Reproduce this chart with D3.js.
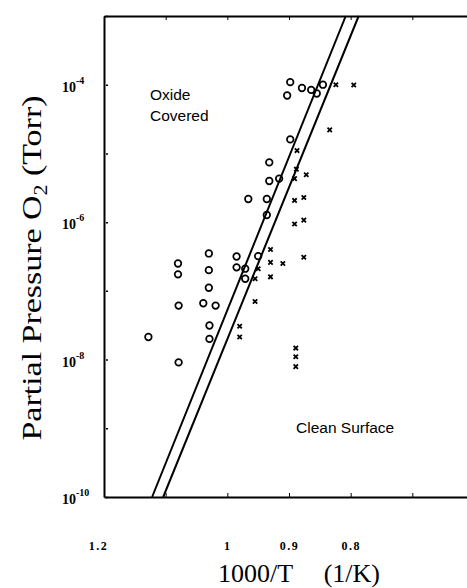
<!DOCTYPE html>
<html>
<head>
<meta charset="utf-8">
<script src="https://cdn.jsdelivr.net/npm/d3@7"></script>
<style>
  html, body { margin: 0; padding: 0; background: #fff; }
  svg { display: block; }
</style>
</head>
<body>
<svg id="chart" width="467" height="588"></svg>
<script>
// ---- data ----
const xTickValues = [1.2, 1.1, 1.0, 0.9, 0.8, 0.7];
const xTickLabels = ["1.2", "", "1", "0.9", "0.8", ""];
const yTickValues = [1e-10, 1e-9, 1e-8, 1e-7, 1e-6, 1e-5, 1e-4, 1e-3];
const yTickExponents = ["-10", "", "-8", "", "-6", "", "-4", ""];

// Oxide covered (open circles): 1000/T, pressure (Torr)
const oxideX = [0.898, 0.879, 0.864, 0.855, 0.845, 0.903, 0.898, 0.932, 0.932, 0.916,
                0.966, 0.936, 0.936, 1.030, 0.985, 0.950, 1.080, 1.080, 1.030, 0.985,
                0.971, 1.030, 0.971, 1.079, 1.039, 1.019, 1.029, 1.128, 1.029, 1.079];
const oxideP = [1.09e-4, 8.95e-5, 8.4e-5, 7.45e-5, 1.0e-4, 6.97e-5, 1.6e-5, 7.4e-6, 3.97e-6, 4.3e-6,
                2.17e-6, 2.17e-6, 1.27e-6, 3.5e-7, 3.16e-7, 3.2e-7, 2.5e-7, 1.74e-7, 2.0e-7, 2.2e-7,
                2.1e-7, 1.11e-7, 1.5e-7, 6.1e-8, 6.6e-8, 6.1e-8, 3.13e-8, 2.13e-8, 2.0e-8, 9.1e-9];

// Clean surface (crosses)
const cleanX = [0.824, 0.795, 0.834, 0.887, 0.888, 0.872, 0.891, 0.891, 0.876, 0.891,
                0.876, 0.930, 0.930, 0.910, 0.876, 0.950, 0.955, 0.930, 0.955, 0.980,
                0.980, 0.889, 0.889, 0.889];
const cleanP = [1.0e-4, 9.9e-5, 2.2e-5, 1.1e-5, 5.9e-6, 4.9e-6, 4.3e-6, 2.07e-6, 2.28e-6, 9.4e-7,
                1.07e-6, 4.0e-7, 2.6e-7, 2.5e-7, 3.08e-7, 2.1e-7, 1.5e-7, 1.6e-7, 7.0e-8, 3.05e-8,
                2.13e-8, 1.47e-8, 1.1e-8, 7.9e-9];

// transition boundary lines
const boundaryA = [[1.122, 1e-10], [0.808, 1e-3]];
const boundaryB = [[1.104, 1e-10], [0.787, 1e-3]];

// ---- chart ----
const svg = d3.select("#chart");
const x = d3.scaleLinear().domain([1.2, 0.6]).range([104, 474]);
const y = d3.scaleLog().domain([1e-10, 1e-3]).range([497, 16]);

const serif = "'Liberation Serif', 'Times New Roman', serif";
const sans = "'Liberation Sans', Arial, Helvetica, sans-serif";

// bottom axis (inward ticks)
const gB = svg.append("g").attr("transform", `translate(0,${y.range()[0]})`)
  .call(d3.axisBottom(x).tickValues(xTickValues).tickSize(-4).tickSizeOuter(0)
    .tickPadding(44).tickFormat((d, i) => xTickLabels[i]));
gB.select(".domain").attr("stroke-width", 2);
gB.selectAll("text").attr("font-family", serif).attr("font-weight", "bold")
  .attr("font-size", 12).attr("letter-spacing", "1.5px").attr("fill", "#000");
gB.selectAll(".tick").filter(d => d === 1.2).select("text").attr("dx", -6);

// top axis
const gT = svg.append("g").attr("transform", `translate(0,${y.range()[1]})`)
  .call(d3.axisTop(x).tickValues(xTickValues).tickSize(-4).tickSizeOuter(0).tickFormat(""));
gT.select(".domain").attr("stroke-width", 2);

// left axis
const gL = svg.append("g").attr("transform", `translate(${x.range()[0]},0)`)
  .call(d3.axisLeft(y).tickValues(yTickValues).tickSize(-4).tickSizeOuter(0).tickFormat(""));
gL.select(".domain").attr("stroke-width", 2);
gL.selectAll(".tick line").attr("x1", 2).attr("stroke-width", 1.5);

// y tick labels 10^n
const yl = svg.append("g").selectAll("text")
  .data(yTickValues.map((v, i) => ({v, e: yTickExponents[i]})).filter(d => d.e !== ""))
  .join("text")
  .attr("x", 62).attr("y", d => y(d.v) + 7)
  .attr("font-family", serif).attr("font-weight", "bold").attr("font-size", 14);
yl.append("tspan").text("10");
yl.append("tspan").attr("dy", -8).attr("font-size", 10).text(d => d.e);

// boundary lines
const line = d3.line().x(d => x(d[0])).y(d => y(d[1]));
svg.append("g").selectAll("path").data([boundaryA, boundaryB]).join("path")
  .attr("d", line).attr("fill", "none").attr("stroke", "#000").attr("stroke-width", 2);

// oxide circles
svg.append("g").selectAll("circle").data(d3.zip(oxideX, oxideP)).join("circle")
  .attr("cx", d => x(d[0])).attr("cy", d => y(d[1])).attr("r", 3.3)
  .attr("fill", "none").attr("stroke", "#000").attr("stroke-width", 1.7);

// clean crosses
const sym = d3.symbol(d3.symbolTimes, 14);
svg.append("g").selectAll("path").data(d3.zip(cleanX, cleanP)).join("path")
  .attr("transform", d => `translate(${x(d[0])},${y(d[1])})`)
  .attr("d", sym).attr("fill", "none").attr("stroke", "#000").attr("stroke-width", 1.8);

// region labels
svg.append("text").attr("x", 150).attr("y", 100).attr("font-family", sans)
  .attr("font-size", 15.5).text("Oxide");
svg.append("text").attr("x", 150).attr("y", 121).attr("font-family", sans)
  .attr("font-size", 15.5).text("Covered");
svg.append("text").attr("x", 296).attr("y", 433).attr("font-family", sans)
  .attr("font-size", 15.5).text("Clean Surface");

// x title
svg.append("text").attr("x", 218).attr("y", 582)
  .attr("font-family", serif).attr("font-size", 26).text("1000/T");
svg.append("text").attr("x", 380).attr("y", 582).attr("text-anchor", "end")
  .attr("font-family", serif).attr("font-size", 26).text("(1/K)");

// y title
const yt = svg.append("text").attr("transform", "translate(41,268) rotate(-90)")
  .attr("text-anchor", "middle").attr("font-family", serif).attr("font-size", 28)
  .attr("textLength", 345).attr("lengthAdjust", "spacingAndGlyphs");
yt.append("tspan").text("Partial Pressure O");
yt.append("tspan").attr("font-size", 18).attr("dy", 6).text("2");
yt.append("tspan").attr("dy", -6).text("\u00a0(Torr)");
</script>
</body>
</html>
